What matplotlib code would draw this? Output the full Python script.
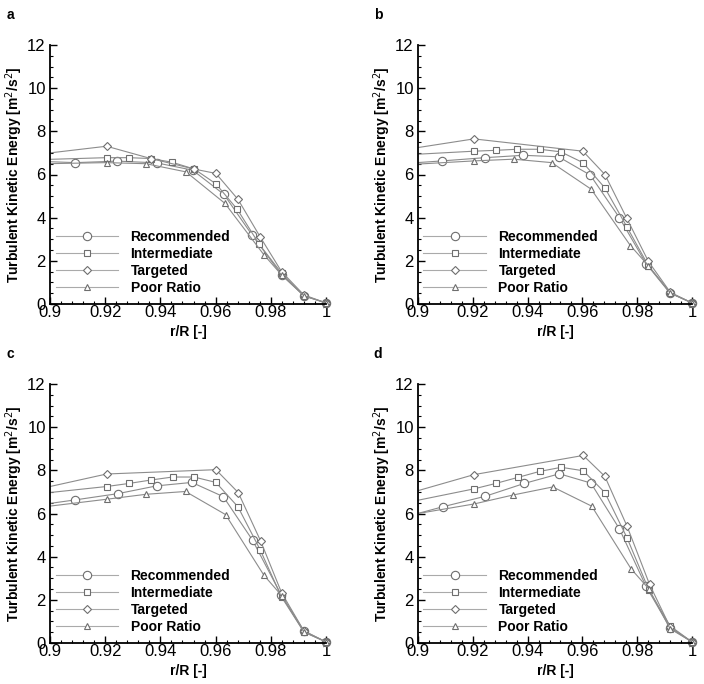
import matplotlib
matplotlib.use("Agg")
import matplotlib.pyplot as plt
from matplotlib.ticker import MultipleLocator, FuncFormatter
from matplotlib.patches import Rectangle

plt.rcParams['font.family'] = ['Liberation Sans', 'DejaVu Sans']

series_names = ["Recommended", "Intermediate", "Targeted", "Poor Ratio"]
panel_labels = ["a", "b", "c", "d"]
x_label = "r/R [-]"
y_label = "Turbulent Kinetic Energy [m$^{2}$/s$^{2}$]"

# ---- panel a ----
a_rec_x = [0.894, 0.9092, 0.9244, 0.9386, 0.9517, 0.963, 0.9732, 0.9839, 0.992, 1.0]
a_rec_y = [6.62, 6.55, 6.62, 6.54, 6.20, 5.08, 3.20, 1.35, 0.38, 0.05]
a_int_x = [0.894, 0.9205, 0.9285, 0.9365, 0.9442, 0.9523, 0.9601, 0.9679, 0.9758, 0.9839, 0.992, 1.0]
a_int_y = [6.68, 6.78, 6.78, 6.74, 6.57, 6.25, 5.57, 4.38, 2.77, 1.43, 0.38, 0.05]
a_tgt_x = [0.894, 0.9205, 0.9365, 0.9523, 0.9601, 0.9681, 0.9761, 0.9839, 0.992, 1.0]
a_tgt_y = [6.91, 7.31, 6.74, 6.25, 6.05, 4.85, 3.12, 1.50, 0.42, 0.05]
a_poor_x = [0.894, 0.9205, 0.9348, 0.9493, 0.9634, 0.9775, 0.9839, 0.992, 1.0]
a_poor_y = [6.49, 6.55, 6.50, 6.12, 4.66, 2.28, 1.35, 0.38, 0.05]

# ---- panel b ----
b_rec_x = [0.894, 0.9088, 0.9244, 0.9384, 0.9513, 0.9629, 0.9735, 0.9833, 0.9919, 1.0]
b_rec_y = [6.50, 6.63, 6.78, 6.89, 6.82, 5.97, 4.00, 1.86, 0.51, 0.05]
b_int_x = [0.894, 0.9204, 0.9284, 0.9362, 0.9444, 0.9521, 0.9602, 0.9682, 0.9762, 0.9841, 0.9921, 1.0]
b_int_y = [6.90, 7.08, 7.12, 7.17, 7.17, 7.05, 6.55, 5.38, 3.58, 1.77, 0.51, 0.05]
b_tgt_x = [0.894, 0.9204, 0.9602, 0.9682, 0.9762, 0.9841, 0.9921, 1.0]
b_tgt_y = [7.13, 7.65, 7.08, 6.00, 3.97, 1.97, 0.54, 0.05]
b_poor_x = [0.894, 0.9204, 0.9349, 0.9488, 0.9632, 0.9775, 0.9841, 0.9921, 1.0]
b_poor_y = [6.44, 6.63, 6.71, 6.55, 5.32, 2.71, 1.77, 0.51, 0.05]

# ---- panel c ----
c_rec_x = [0.894, 0.9091, 0.9246, 0.9386, 0.9514, 0.9628, 0.9734, 0.9837, 0.992, 1.0]
c_rec_y = [6.36, 6.63, 6.92, 7.28, 7.44, 6.78, 4.76, 2.24, 0.56, 0.05]
c_int_x = [0.894, 0.9205, 0.9285, 0.9365, 0.9444, 0.9522, 0.9601, 0.9681, 0.9761, 0.9839, 0.992, 1.0]
c_int_y = [6.89, 7.25, 7.39, 7.55, 7.69, 7.69, 7.44, 6.31, 4.33, 2.13, 0.51, 0.05]
c_tgt_x = [0.894, 0.9205, 0.9601, 0.9682, 0.9763, 0.9839, 0.992, 1.0]
c_tgt_y = [7.08, 7.83, 8.03, 6.97, 4.73, 2.33, 0.56, 0.05]
c_poor_x = [0.894, 0.9205, 0.9348, 0.9491, 0.9636, 0.9775, 0.9839, 0.992, 1.0]
c_poor_y = [6.25, 6.66, 6.89, 7.02, 5.95, 3.14, 2.20, 0.51, 0.05]

# ---- panel d ----
d_rec_x = [0.894, 0.909, 0.9246, 0.9387, 0.9516, 0.9631, 0.9735, 0.9832, 0.992, 1.0]
d_rec_y = [5.80, 6.31, 6.80, 7.39, 7.84, 7.41, 5.29, 2.63, 0.70, 0.05]
d_int_x = [0.894, 0.9204, 0.9283, 0.9364, 0.9444, 0.9523, 0.9603, 0.9682, 0.9763, 0.9843, 0.992, 1.0]
d_int_y = [6.46, 7.14, 7.39, 7.67, 7.95, 8.14, 7.98, 6.97, 4.87, 2.44, 0.79, 0.05]
d_tgt_x = [0.894, 0.9204, 0.9603, 0.9682, 0.9763, 0.9845, 0.992, 1.0]
d_tgt_y = [6.84, 7.80, 8.69, 7.72, 5.41, 2.72, 0.74, 0.05]
d_poor_x = [0.894, 0.9204, 0.9348, 0.9492, 0.9634, 0.9778, 0.9843, 0.992, 1.0]
d_poor_y = [5.87, 6.44, 6.86, 7.23, 6.34, 3.43, 2.50, 0.66, 0.05]

panels = [
    [(a_rec_x, a_rec_y), (a_int_x, a_int_y), (a_tgt_x, a_tgt_y), (a_poor_x, a_poor_y)],
    [(b_rec_x, b_rec_y), (b_int_x, b_int_y), (b_tgt_x, b_tgt_y), (b_poor_x, b_poor_y)],
    [(c_rec_x, c_rec_y), (c_int_x, c_int_y), (c_tgt_x, c_tgt_y), (c_poor_x, c_poor_y)],
    [(d_rec_x, d_rec_y), (d_int_x, d_int_y), (d_tgt_x, d_tgt_y), (d_poor_x, d_poor_y)],
]

markers = ['o', 's', 'D', '^']
msizes = [6.0, 4.2, 3.8, 4.6]

W, H = 704, 684
fig = plt.figure(figsize=(W / 100, H / 100), dpi=100)

# axes boxes in pixels: left, top, right, bottom
boxes = [(50, 45, 326, 304), (418, 45, 692, 304), (50, 384, 326, 643), (418, 384, 692, 643)]

line_col = '#8c8c8c'
edge_col = '#6e6e6e'

for i, (box, series) in enumerate(zip(boxes, panels)):
    l, t, r, b = box
    ax = fig.add_axes([l / W, 1 - b / H, (r - l) / W, (b - t) / H])
    clip = Rectangle((0, -0.05), 1.05, 1.1, transform=ax.transAxes, visible=False)
    ax.add_patch(clip)
    handles = []
    for (xs, ys), mk, ms, name in zip(series, markers, msizes, series_names):
        ln, = ax.plot(xs, ys, color=line_col, lw=0.8, marker=mk, ms=ms,
                      mfc='white', mec=edge_col, mew=0.8, label=name)
        ln.set_clip_path(clip)
        handles.append(ln)
    ax.set_xlim(0.9, 1.0)
    ax.set_ylim(0, 12)
    ax.xaxis.set_major_locator(MultipleLocator(0.02))
    ax.xaxis.set_minor_locator(MultipleLocator(0.004))
    ax.yaxis.set_major_locator(MultipleLocator(2))
    ax.yaxis.set_minor_locator(MultipleLocator(0.5))
    ax.xaxis.set_major_formatter(FuncFormatter(lambda v, p: f"{v:g}"))
    ax.yaxis.set_major_formatter(FuncFormatter(lambda v, p: f"{v:g}"))
    for s in ['top', 'right']:
        ax.spines[s].set_visible(False)
    for s in ['left', 'bottom']:
        ax.spines[s].set_linewidth(1.3)
    ax.tick_params(which='major', direction='in', length=5, width=1.0, labelsize=12)
    ax.tick_params(which='minor', direction='in', length=2.5, width=0.8)
    ax.tick_params(axis='x', which='major', pad=1)
    ax.tick_params(axis='y', which='major', pad=3)
    ax.set_xlabel(x_label, fontsize=10, fontweight='bold', labelpad=3)
    ax.set_ylabel(y_label, fontsize=10, fontweight='bold', labelpad=4)
    ax.yaxis.set_label_coords(-25 / (r - l), 0.5)
    leg = ax.legend(handles=handles, loc='lower left', bbox_to_anchor=(0.02, 0.035),
                    frameon=False, prop={'weight': 'bold', 'size': 10},
                    handlelength=4.5, handletextpad=0.9, labelspacing=0.22,
                    borderpad=0, borderaxespad=0)
    for lh in leg.get_lines():
        lh.set_color('#aaaaaa')
    fig.text((l - 40) / W, 1 - (t - 30) / H, panel_labels[i], fontsize=10, fontweight='bold',
             ha='center', va='center')

fig.savefig("out.png", dpi=100)
